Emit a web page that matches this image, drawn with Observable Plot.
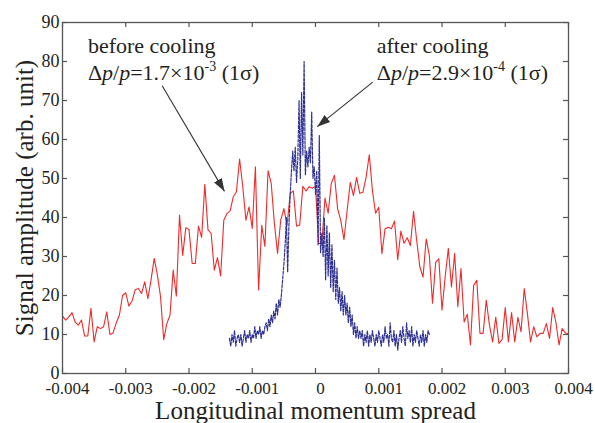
<!DOCTYPE html>
<html>
<head>
<meta charset="utf-8">
<script src="https://cdn.jsdelivr.net/npm/d3@7"></script>
<script src="https://cdn.jsdelivr.net/npm/@observablehq/plot@0.6"></script>
<style>
  html, body { margin: 0; padding: 0; background: #fff; }
  svg { display: block; }
</style>
</head>
<body>
<div id="chart"></div>
<script>
// ---- data ----
const xTicks = [-0.004, -0.003, -0.002, -0.001, 0, 0.001, 0.002, 0.003, 0.004];
const yTicks = [0, 10, 20, 30, 40, 50, 60, 70, 80, 90];

// before cooling (red), evenly sampled from -0.004 to 0.004
const beforeRange = [-0.004, 0.004];
const beforeCooling = [
  14.7, 13.7, 14.5, 15.6, 13.2, 12.4, 13.7, 9.6, 9.6, 16.7,
  8.1, 12, 11.5, 12, 15.8, 10, 10.4, 13, 15, 20,
  20.7, 17.3, 18.6, 21.5, 21.8, 20.5, 23.5, 19.2, 24, 29.5,
  25.3, 19.7, 8.7, 12.8, 15, 26.5, 19.8, 40.6, 30.3, 37.4,
  36.9, 28.2, 28.2, 37.8, 34.9, 48.5, 36.9, 35.9, 26.5, 29.7,
  25, 39.3, 41, 41.7, 45.3, 46.6, 55, 47.9, 39.3, 42.7,
  37.2, 53, 21.4, 38, 32.6, 52, 48.7, 38.5, 30.8, 39.3,
  42.3, 38, 46.2, 46.8, 37.8, 38, 48, 46.8, 47.9, 47.5,
  48, 33.3, 33.4, 45, 41.1, 48.8, 50.8, 42.2, 39.2, 34.3,
  41.8, 49.0, 45.6, 50.3, 46.2, 46.5, 50.3, 56.1, 46.9, 41.1,
  42.6, 30.7, 37.1, 37.5, 37.1, 39.1, 29.2, 36.5, 33.4, 34.8,
  32.8, 41.6, 34.1, 27.3, 24.7, 34.5, 30.2, 18.0, 28.5, 29.4,
  16.2, 24.8, 32.1, 22.2, 30.8, 17.1, 26.9, 13.2, 15.2, 7.3,
  22.6, 23.9, 10.3, 10.3, 18.8, 12.4, 8.1, 14.5, 7.7, 8.7,
  16.9, 8.1, 15.6, 8.1, 14.4, 10.7, 21.8, 15.4, 8.1, 12,
  9.4, 10.3, 10.3, 12.8, 9, 16.9, 13.2, 7.3, 11.5, 10.4,
  10.2
];

// after cooling (blue, dashed), evenly sampled from -0.00136 to 0.0018
const afterRange = [-0.00136, 0.0018];
const afterCooling = [
  9, 7, 10, 8, 11, 7, 9, 10, 8, 10,
  7, 9, 11, 8, 10, 9, 11, 8, 10, 9,
  12, 9, 11, 10, 12, 9, 11, 10, 12, 13,
  11, 14, 12, 15, 13, 16, 14, 18, 15, 19,
  17, 20, 24, 28, 33, 40, 26, 38, 46, 52,
  57, 52, 58, 49, 55, 70, 50, 72, 56, 80,
  51, 57, 53, 58, 54, 67, 50, 53, 46, 52,
  33, 61, 31, 36, 30, 40, 24, 38, 25, 36,
  22, 33, 21, 29, 19, 27, 18, 22, 16, 21,
  15, 20, 15, 18, 13, 17, 12, 15, 10, 13,
  9, 12, 9, 11, 9, 11, 7, 10, 8, 11,
  7, 10, 8, 11, 9, 7, 10, 8, 11, 9,
  7, 10, 8, 12, 9, 10, 7, 13, 9, 8,
  11, 7, 10, 6, 9, 11, 8, 12, 9, 7,
  13, 9, 11, 8, 12, 7, 10, 8, 11, 9,
  7, 10, 8, 11, 7, 10, 8, 11, 10
];

// annotations (data coordinates)
const noteTitles = ["before cooling", "after cooling"];
const noteValues = ["1.7", "2.9"];
const noteExps = ["-3", "-4"];
const noteX = [-0.00359, 0.000976];
const noteY = [82, 82];
const arrowFrom = [[-0.002424, 73.8], [0.000906, 74.7]];
const arrowTo = [[-0.001439, 46.7], [0.000027, 63.3]];

// ---- build tables ----
function sampled(values, [a, b]) {
  const n = values.length;
  return values.map((v, i) => ({x: a + (b - a) * i / (n - 1), y: v}));
}
const before = sampled(beforeCooling, beforeRange);
const after = sampled(afterCooling, afterRange);
const arrows = arrowFrom.map((f, i) => ({x1: f[0], y1: f[1], x2: arrowTo[i][0], y2: arrowTo[i][1]}));

const ink = "#231f20";
const axisInk = "#555";
const serif = "'Liberation Serif', 'Times New Roman', serif";

const chart = Plot.plot({
  width: 595,
  height: 423,
  marginLeft: 62,
  marginRight: 27,
  marginTop: 22,
  marginBottom: 50,
  style: {fontFamily: serif, fontSize: "17px", color: ink, background: "#fff"},
  x: {domain: [-0.004, 0.004]},
  y: {domain: [0, 90]},
  marks: [
    Plot.axisX(xTicks, {tickSize: 0, tickPadding: 8, dx: 5, fontSize: 17, label: null,
      tickFormat: d => d === 0 ? "0" : d.toFixed(3)}),
    Plot.axisY(yTicks, {tickSize: 0, tickPadding: 3, fontSize: 18, label: null,
      tickFormat: d => String(d)}),
    Plot.tickX(xTicks, {x: d => d, insetTop: 346, stroke: axisInk, strokeWidth: 1.2}),
    Plot.tickX(xTicks, {x: d => d, insetBottom: 346, stroke: axisInk, strokeWidth: 1.2}),
    Plot.tickY(yTicks, {y: d => d, insetRight: 501, stroke: axisInk, strokeWidth: 1.2}),
    Plot.tickY(yTicks, {y: d => d, insetLeft: 501, stroke: axisInk, strokeWidth: 1.2}),
    Plot.line(before, {x: "x", y: "y", stroke: "#ee2a2a", strokeWidth: 1.1}),
    Plot.line(after, {x: "x", y: "y", stroke: "#2e3192", strokeWidth: 1.2, strokeDasharray: "3,1.5"}),
    Plot.frame({stroke: axisInk, strokeWidth: 1.3}),
    Plot.link(arrows, {x1: "x1", y1: "y1", x2: "x2", y2: "y2", stroke: "#333", strokeWidth: 1.1}),
    Plot.text(["Longitudinal momentum spread"], {frameAnchor: "bottom", textAnchor: "middle", lineAnchor: "bottom", dy: 45, fontSize: 25, fill: ink}),
    Plot.text(["Signal amplitude (arb. unit)"], {frameAnchor: "left", textAnchor: "middle", lineAnchor: "middle", rotate: -90, dx: -38, fontSize: 25, fill: ink})
  ]
});

// arrowheads (filled triangles) on the link marks
const svg = d3.select(chart);
const defs = svg.insert("defs", ":first-child");
defs.append("marker")
  .attr("id", "ahead")
  .attr("markerUnits", "userSpaceOnUse")
  .attr("markerWidth", 13).attr("markerHeight", 9)
  .attr("refX", 13).attr("refY", 4.5)
  .attr("orient", "auto")
  .append("path").attr("d", "M0,0L13,4.5L0,9Z").attr("fill", "#333");
svg.selectAll('g[aria-label="link"] path').attr("marker-end", "url(#ahead)");

// annotation text with italic p and superscript exponent, positioned via the plot's scales
const sx = chart.scale("x"), sy = chart.scale("y");
noteTitles.forEach((title, i) => {
  const px = sx.apply(noteX[i]), py = sy.apply(noteY[i]);
  const t = svg.append("text")
    .attr("x", px).attr("y", py)
    .attr("text-anchor", "start")
    .attr("font-family", serif).attr("font-size", 22).attr("fill", ink);
  t.append("tspan").text(title);
  t.append("tspan").attr("x", px).attr("dy", 27).text("\u0394");
  t.append("tspan").attr("font-style", "italic").text("p");
  t.append("tspan").text("/");
  t.append("tspan").attr("font-style", "italic").text("p");
  t.append("tspan").text("=" + noteValues[i] + "\u00d710");
  t.append("tspan").attr("dy", -9).attr("font-size", 14).text(noteExps[i]);
  t.append("tspan").attr("dy", 9).text("\u00a0(1\u03c3)");
});

document.getElementById("chart").appendChild(chart);
</script>
</body>
</html>
